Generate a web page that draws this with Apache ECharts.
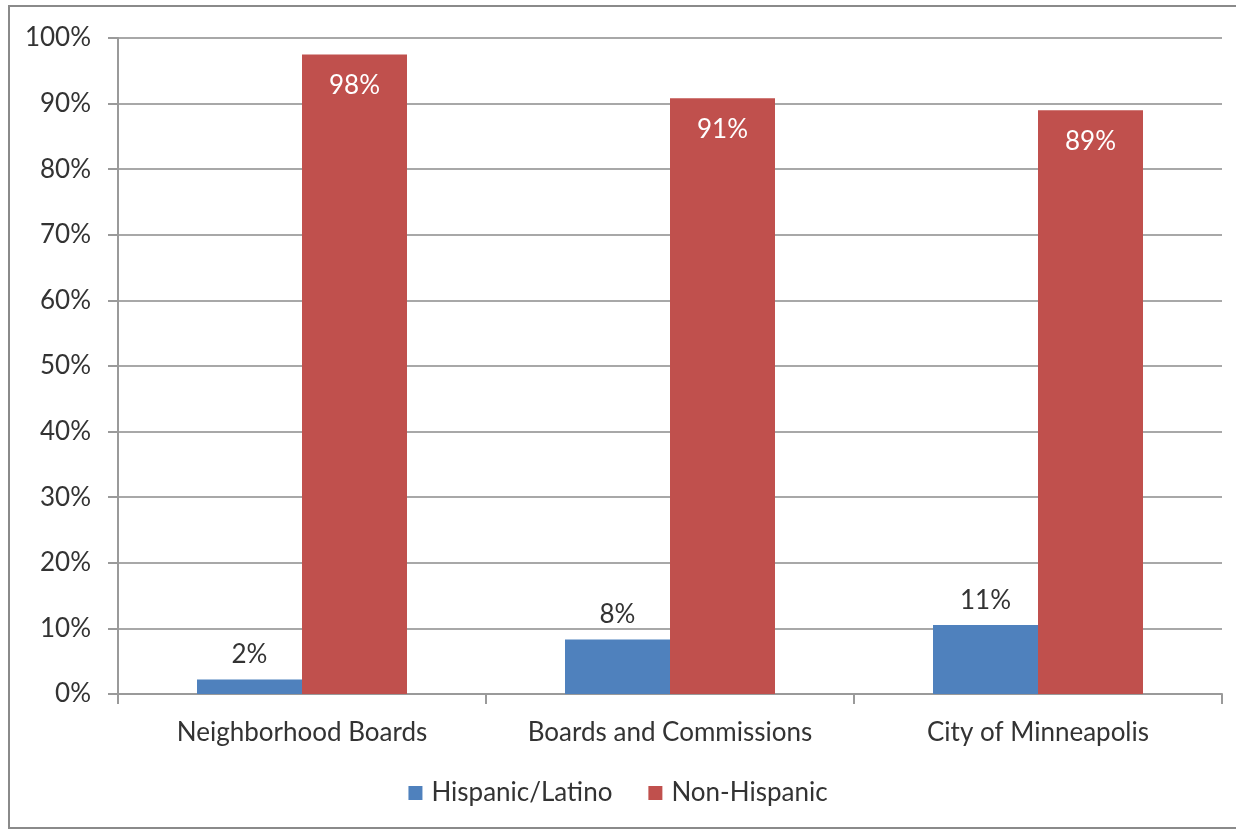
<!DOCTYPE html>
<html>
<head>
<meta charset="utf-8">
<script src="https://cdn.jsdelivr.net/npm/echarts@6/dist/echarts.min.js"></script>
<style>
  html, body { margin: 0; padding: 0; background: #fff; }
  #frame {
    position: absolute; left: 8px; top: 5px; width: 1228px; height: 824px;
    border: 2px solid #8a8a8a; border-right: none; box-sizing: border-box;
  }
  #chart { position: absolute; left: 0; top: 0; width: 1236px; height: 833px; }
</style>
</head>
<body>
<div id="frame"></div>
<div id="chart"></div>
<script>
// 数据
const categories = ['Neighborhood Boards', 'Boards and Commissions', 'City of Minneapolis']
const hispanic = [2.2, 8.3, 10.5]
const nonHispanic = [97.5, 90.8, 89.0]
const hispanicLabels = ['2%', '8%', '11%']
const nonHispanicLabels = ['98%', '91%', '89%']

const font = 'Lato, "Open Sans", sans-serif'
const chart = echarts.init(document.getElementById('chart'))

chart.setOption({
  animation: false,
  textStyle: { fontFamily: font },
  grid: { left: 118, right: 14, top: 38, bottom: 139 },
  legend: {
    bottom: 22,
    left: 'center',
    itemWidth: 14,
    itemHeight: 14,
    itemGap: 36,
    icon: 'rect',
    textStyle: { fontSize: 26, color: '#333', fontFamily: font, padding: [0, 0, 0, 4] },
    data: ['Hispanic/Latino', 'Non-Hispanic']
  },
  xAxis: {
    type: 'category',
    data: categories,
    axisLine: { lineStyle: { color: '#9a9a9a', width: 2 } },
    axisTick: { show: true, length: 10, lineStyle: { color: '#9a9a9a', width: 2 } },
    axisLabel: { fontSize: 26, color: '#333', margin: 26, interval: 0, fontFamily: font }
  },
  yAxis: {
    type: 'value',
    min: 0,
    max: 100,
    interval: 10,
    axisLine: { show: true, lineStyle: { color: '#9a9a9a', width: 2 } },
    axisTick: { show: true, length: 10, lineStyle: { color: '#9a9a9a', width: 2 } },
    splitLine: { lineStyle: { color: '#a8a8a8', width: 2 } },
    axisLabel: { fontSize: 26, color: '#333', margin: 27, formatter: '{value}%', fontFamily: font }
  },
  series: [
    {
      name: 'Hispanic/Latino',
      type: 'bar',
      data: hispanic,
      barWidth: 105,
      barGap: '0%',
      itemStyle: { color: '#4f81bd' },
      label: {
        show: true,
        position: 'top',
        distance: 12,
        fontSize: 26,
        color: '#333',
        fontFamily: font,
        formatter: p => hispanicLabels[p.dataIndex]
      }
    },
    {
      name: 'Non-Hispanic',
      type: 'bar',
      data: nonHispanic,
      barWidth: 105,
      barGap: '0%',
      itemStyle: { color: '#c0504d' },
      label: {
        show: true,
        position: 'insideTop',
        distance: 18,
        fontSize: 26,
        color: '#fff',
        fontFamily: font,
        formatter: p => nonHispanicLabels[p.dataIndex]
      }
    }
  ]
})
</script>
</body>
</html>
